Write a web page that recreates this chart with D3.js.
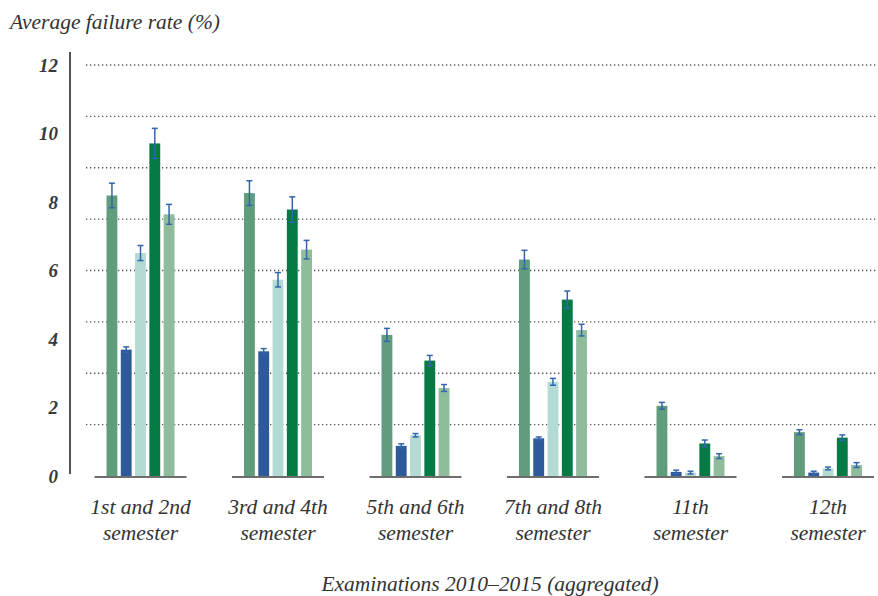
<!DOCTYPE html>
<html>
<head>
<meta charset="utf-8">
<script src="https://cdn.jsdelivr.net/npm/d3@7/dist/d3.min.js"></script>
<style>
  html, body { margin: 0; padding: 0; background: #ffffff; }
  svg { display: block; }
  text { font-family: "Liberation Serif", "DejaVu Serif", serif; font-style: italic; fill: #333; }
</style>
</head>
<body>
<svg id="chart" width="878" height="596"></svg>
<script>
// ---- data ----
const categories = [
  ["1st and 2nd", "semester"],
  ["3rd and 4th", "semester"],
  ["5th and 6th", "semester"],
  ["7th and 8th", "semester"],
  ["11th", "semester"],
  ["12th", "semester"]
];
const seriesNames = ["Series 1", "Series 2", "Series 3", "Series 4", "Series 5"];
const series1 = [8.19, 8.26, 4.12, 6.32, 2.05, 1.28];
const series2 = [3.69, 3.64, 0.88, 1.10, 0.12, 0.10];
const series3 = [6.51, 5.73, 1.19, 2.75, 0.10, 0.22];
const series4 = [9.71, 7.78, 3.37, 5.15, 0.95, 1.12];
const series5 = [7.64, 6.61, 2.57, 4.26, 0.58, 0.32];
const error1 = [0.36, 0.36, 0.19, 0.27, 0.10, 0.07];
const error2 = [0.08, 0.08, 0.06, 0.04, 0.05, 0.04];
const error3 = [0.22, 0.21, 0.05, 0.10, 0.04, 0.04];
const error4 = [0.44, 0.37, 0.15, 0.25, 0.10, 0.08];
const error5 = [0.29, 0.27, 0.10, 0.17, 0.07, 0.07];
const yTicks = [0, 2, 4, 6, 8, 10, 12];
const gridValues = [1.5, 3, 4.5, 6, 7.5, 9, 10.5, 12];
const yTitle = "Average failure rate (%)";
const xTitle = "Examinations 2010\u20132015 (aggregated)";
const colors = ["#609d7c", "#2e5a9c", "#b4dad4", "#067a44", "#8fbd9c"];

const values = [series1, series2, series3, series4, series5];
const errors = [error1, error2, error3, error4, error5];

// ---- scales ----
const svg = d3.select("#chart");
const catKeys = categories.map((c, i) => i);
const x = d3.scalePoint().domain(catKeys).range([140.5, 828]);
const xInner = d3.scaleBand().domain(seriesNames).range([-34, 34]).paddingInner(0.24).paddingOuter(0);
const y = d3.scaleLinear().domain([0, 12]).range([476, 65]);

// gridlines
svg.append("g").selectAll("line").data(gridValues).join("line")
  .attr("x1", 86).attr("x2", 876)
  .attr("y1", d => y(d)).attr("y2", d => y(d))
  .attr("stroke", "#555").attr("stroke-width", 1.3)
  .attr("stroke-dasharray", "1.3,2.7");

// y axis line
svg.append("line").attr("x1", 70).attr("x2", 70).attr("y1", 52).attr("y2", 474)
  .attr("stroke", "#555").attr("stroke-width", 2);

// y tick labels
svg.append("g").selectAll("text").data(yTicks).join("text")
  .attr("x", 58).attr("y", d => y(d))
  .attr("dy", "0.35em").attr("text-anchor", "end")
  .attr("font-size", 19).attr("font-weight", "bold").style("fill", "#3a3a3a")
  .text(d => d);

// y title
svg.append("text").attr("x", 10).attr("y", 29)
  .attr("font-size", 21.5).text(yTitle);

// group baselines
svg.append("g").selectAll("line").data(catKeys).join("line")
  .attr("x1", d => x(d) - 46).attr("x2", d => x(d) + 46)
  .attr("y1", y(0) + 1).attr("y2", y(0) + 1)
  .attr("stroke", "#6e6e6e").attr("stroke-width", 2);

// bars
const barData = [];
values.forEach((arr, s) => arr.forEach((v, c) => barData.push({s, c, v, e: errors[s][c]})));

svg.append("g").selectAll("rect").data(barData).join("rect")
  .attr("x", d => x(d.c) + xInner(seriesNames[d.s]))
  .attr("width", xInner.bandwidth())
  .attr("y", d => y(d.v))
  .attr("height", d => y(0) - y(d.v))
  .attr("fill", d => colors[d.s]);

// error bars
const eg = svg.append("g").attr("stroke", "#3466ab").attr("stroke-width", 1.5).attr("fill", "none");
barData.forEach(d => {
  const cx = x(d.c) + xInner(seriesNames[d.s]) + xInner.bandwidth() / 2;
  const y1 = y(d.v + d.e), y2 = y(Math.max(0, d.v - d.e));
  eg.append("line").attr("x1", cx).attr("x2", cx).attr("y1", y1).attr("y2", y2);
  eg.append("line").attr("x1", cx - 3).attr("x2", cx + 3).attr("y1", y1).attr("y2", y1);
  eg.append("line").attr("x1", cx - 3).attr("x2", cx + 3).attr("y1", y2).attr("y2", y2);
});

// x labels
const xl = svg.append("g").selectAll("text").data(catKeys).join("text")
  .attr("text-anchor", "middle").attr("font-size", 21.5);
xl.append("tspan").attr("x", d => x(d)).attr("y", 514).text(d => categories[d][0]);
xl.append("tspan").attr("x", d => x(d)).attr("y", 540).text(d => categories[d][1]);

// x title
svg.append("text").attr("x", 490).attr("y", 591).attr("text-anchor", "middle")
  .attr("font-size", 21.5).text(xTitle);
</script>
</body>
</html>
